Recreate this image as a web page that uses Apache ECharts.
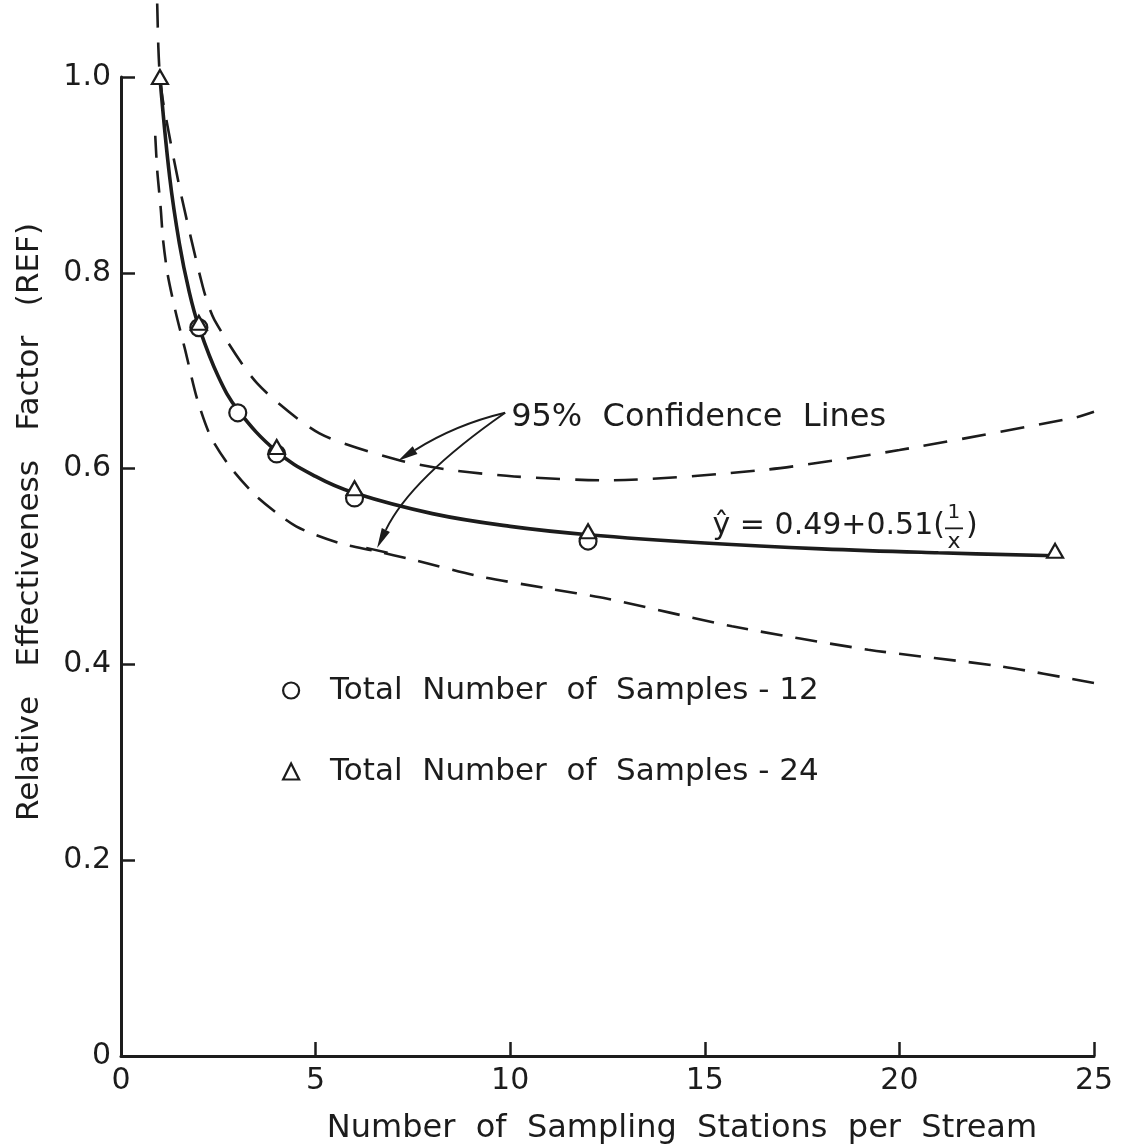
<!DOCTYPE html>
<html>
<head>
<meta charset="utf-8">
<title>Relative Effectiveness Factor</title>
<script src="https://cdn.jsdelivr.net/npm/echarts@6/dist/echarts.min.js"></script>
<style>
  html, body { margin: 0; padding: 0; background: #ffffff; }
  #chart { width: 1127px; height: 1148px; }
</style>
</head>
<body>
<div id="chart"></div>
<script>
// ---- axis ticks ----
const xTicks = [0, 5, 10, 15, 20, 25];
const yTicks = [0, 0.2, 0.4, 0.6, 0.8, 1.0];

// ---- observed REF values ----
const stations12 = [2, 3, 4, 6, 12];
const ref12      = [0.744, 0.657, 0.615, 0.570, 0.526];
const stations24 = [1, 2, 4, 6, 12, 24];
const ref24      = [1.0, 0.749, 0.622, 0.580, 0.536, 0.516];

// ---- fitted curve  y^ = 0.49 + 0.51(1/x) ----
const fitX = [1, 1.25, 1.5, 1.75, 2, 2.5, 3, 4, 5, 6, 8, 10, 12, 15, 18, 21, 24];
const fitY = [1.0, 0.898, 0.830, 0.781, 0.745, 0.694, 0.660, 0.6175, 0.592, 0.575, 0.554, 0.541, 0.5325, 0.524, 0.518, 0.514, 0.511];

// ---- 95% confidence lines ----
const upperX = [0.93, 0.96, 1.0, 1.08, 1.5, 2.1, 2.4, 3.5, 5.1, 7.1, 8.4, 10.1, 12.5, 16.6, 20.0, 24.5, 25.0];
const upperY = [1.075, 1.03, 1.0, 0.975, 0.888, 0.786, 0.752, 0.687, 0.636, 0.609, 0.599, 0.592, 0.588, 0.599, 0.619, 0.652, 0.658];
const lowerX = [0.88, 0.93, 1.02, 1.08, 1.2, 1.41, 1.65, 1.95, 2.3, 2.8, 3.5, 4.5, 5.6, 6.5, 7.5, 9.2, 10.9, 12.5, 15.7, 19.2, 22.6, 25.0];
const lowerY = [0.94, 0.905, 0.866, 0.834, 0.798, 0.759, 0.721, 0.672, 0.633, 0.602, 0.571, 0.541, 0.524, 0.516, 0.507, 0.490, 0.478, 0.467, 0.439, 0.415, 0.398, 0.381];

// ---- text ----
const xTitle = 'Number  of  Sampling  Stations  per  Stream';
const yTitle = 'Relative   Effectiveness   Factor   (REF)';
const name12 = 'Total  Number  of  Samples - 12';
const name24 = 'Total  Number  of  Samples - 24';
const confText = '95%  Confidence  Lines';
const eqMain = 'ŷ = 0.49+0.51(';

const INK = '#1c1c1c';
const FONT = 'DejaVu Sans';

const zip = (xs, ys) => xs.map((x, i) => [x, ys[i]]);

// width of a string in the chart font
const measureCtx = document.createElement('canvas').getContext('2d');
function textWidth(str, size) {
  measureCtx.font = size + 'px "' + FONT + '"';
  return measureCtx.measureText(str).width;
}

const chart = echarts.init(document.getElementById('chart'), null, { renderer: 'canvas' });

const axisCommon = {
  type: 'value',
  axisLine: { show: true, lineStyle: { color: INK, width: 3 } },
  axisTick: { show: true, inside: true, length: 14, lineStyle: { color: INK, width: 2.5 } },
  splitLine: { show: false },
  axisLabel: { color: INK, fontSize: 30, fontFamily: FONT }
};

const markerStyle = { color: '#ffffff', borderColor: INK, borderWidth: 2.2, opacity: 1 };

chart.setOption({
  backgroundColor: '#ffffff',
  animation: false,
  grid: { left: 121, right: 33, top: 77, bottom: 92, containLabel: false, outerBoundsMode: 'none' },
  xAxis: Object.assign({}, axisCommon, {
    min: xTicks[0], max: xTicks[xTicks.length - 1], interval: xTicks[1] - xTicks[0],
    axisLabel: Object.assign({}, axisCommon.axisLabel, { margin: 10, formatter: v => String(v) })
  }),
  yAxis: Object.assign({}, axisCommon, {
    min: yTicks[0], max: yTicks[yTicks.length - 1], interval: 0.2,
    axisLabel: Object.assign({}, axisCommon.axisLabel, {
      margin: 10,
      formatter: v => (Math.abs(v) < 1e-9 ? '0' : v.toFixed(1))
    })
  }),
  legend: {
    orient: 'vertical',
    left: 277, top: 670,
    itemGap: 50,
    itemWidth: 16, itemHeight: 16,
    selectedMode: false,
    textStyle: { color: INK, fontSize: 31, fontFamily: FONT, padding: [0, 0, 0, 26] },
    data: [
      { name: name12, icon: 'circle', itemStyle: markerStyle },
      { name: name24, icon: 'triangle', itemStyle: markerStyle }
    ]
  },
  series: [
    {
      name: 'upper', type: 'line', data: zip(upperX, upperY), smooth: 0.25, clip: false,
      showSymbol: false, silent: true, z: 2,
      lineStyle: { color: INK, width: 2.6, type: [24, 15] }
    },
    {
      name: 'lower', type: 'line', data: zip(lowerX, lowerY), smooth: 0.25, clip: false,
      showSymbol: false, silent: true, z: 2,
      lineStyle: { color: INK, width: 2.6, type: [22, 13] }
    },
    {
      name: 'fit', type: 'line', data: zip(fitX, fitY), smooth: 0.4,
      showSymbol: false, silent: true, z: 3,
      lineStyle: { color: INK, width: 3.6 }
    },
    {
      name: name12, type: 'scatter', data: zip(stations12, ref12),
      symbol: 'circle', symbolSize: 17, z: 4,
      itemStyle: markerStyle
    },
    {
      name: name24, type: 'scatter', data: zip(stations24, ref24),
      symbol: 'triangle', symbolSize: [16, 14], z: 5,
      itemStyle: markerStyle
    }
  ]
});

// ---- annotations: titles, equation, arrows ----
const px = (x, y) => chart.convertToPixel({ gridIndex: 0 }, [x, y]);

function textEl(text, x, y, size, align, rotation) {
  return {
    type: 'text', x: x, y: y, rotation: rotation || 0, z: 10,
    style: {
      text: text, fill: INK, fontSize: size, fontFamily: FONT,
      align: align, textAlign: align, verticalAlign: 'middle', textVerticalAlign: 'middle'
    }
  };
}

function arrow(start, ctrl, end) {
  const dx = end[0] - ctrl[0], dy = end[1] - ctrl[1];
  const len = Math.hypot(dx, dy);
  const ux = dx / len, uy = dy / len;
  const L = 20, W = 4.5;
  const bx = end[0] - ux * L, by = end[1] - uy * L;
  return [
    {
      type: 'bezierCurve', z: 9,
      shape: { x1: start[0], y1: start[1], x2: bx, y2: by, cpx1: ctrl[0], cpy1: ctrl[1] },
      style: { stroke: INK, lineWidth: 2, fill: null }
    },
    {
      type: 'polygon', z: 9,
      shape: { points: [end, [bx - uy * W, by + ux * W], [bx + uy * W, by - ux * W]] },
      style: { fill: INK }
    }
  ];
}

const labelTail = px(9.87, 0.657);
const tipUpper = px(7.12, 0.608);
const tipLower = px(6.58, 0.519);
const ctrlUpper = px(8.6, 0.645);
const ctrlLower = px(7.45, 0.590);
const barA = px(6.3, 0.519), barB = px(6.85, 0.514);

const EQ_SIZE = 30;
const eqAnchor = px(15.2, 0.541);
const fracX = eqAnchor[0] + textWidth(eqMain, EQ_SIZE) + 9;

chart.setOption({
  graphic: {
    elements: [
      textEl(yTitle, 30, 522, 31, 'center', Math.PI / 2),
      textEl(xTitle, 682, 1129, 32, 'center'),
      textEl(confText, labelTail[0] + 6, labelTail[1] + 5, 32, 'left'),
      textEl(eqMain, eqAnchor[0], eqAnchor[1], EQ_SIZE, 'left'),
      textEl('1', fracX, eqAnchor[1] - 14, 20, 'center'),
      {
        type: 'line', z: 10,
        shape: { x1: fracX - 9, y1: eqAnchor[1] + 2, x2: fracX + 9, y2: eqAnchor[1] + 2 },
        style: { stroke: INK, lineWidth: 1.8 }
      },
      textEl('x', fracX, eqAnchor[1] + 16, 22, 'center'),
      textEl(')', fracX + 12, eqAnchor[1], EQ_SIZE, 'left'),
      ...arrow(labelTail, ctrlUpper, tipUpper),
      ...arrow(labelTail, ctrlLower, tipLower),
      {
        type: 'line', z: 9,
        shape: { x1: barA[0], y1: barA[1], x2: barB[0], y2: barB[1] },
        style: { stroke: INK, lineWidth: 2.4 }
      }
    ]
  }
});
</script>
</body>
</html>
